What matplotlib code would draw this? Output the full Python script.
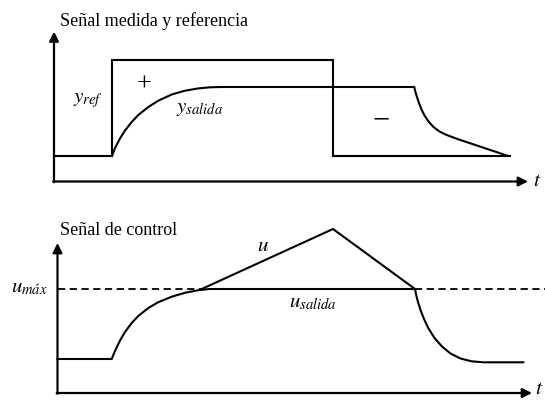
import matplotlib
matplotlib.use("Agg")
import matplotlib.pyplot as plt

plt.rcParams['font.family'] = ['Liberation Serif', 'DejaVu Serif']
plt.rcParams['mathtext.fontset'] = 'stix'

# --- top panel: reference and measured output (t, value) ---
ref_t = [0, 58, 58, 279, 279, 456]
ref_y = [25.5, 25.5, 122, 122, 25.5, 25.5]

out_t = [58, 61, 66, 71, 77.7, 84.3, 94.3, 104.3, 117.7, 131, 144.3, 156, 166,
         360.3, 361.3, 362.8, 364.8, 367.3, 370.5, 374.5, 379.5, 385.5, 392, 398, 404.3, 454.3]
out_y = [25.5, 33.5, 43, 51, 59.5, 66.5, 74.5, 80.8, 87, 90.8, 93.1, 94.2, 94.5,
         94.5, 90, 85, 79, 72.5, 66, 60, 54.5, 50, 46.8, 44.5, 42.2, 25.5]

# --- bottom panel: control signal ---
u_max = 104
usal_t = [0, 54.2, 57.5, 62.5, 67.5, 74.2, 80.8, 90.8, 100.8, 114.2, 127.5, 140.8, 152,
          357.5, 358.7, 360.5, 363, 366.5, 371, 377, 384.5, 393, 403, 414, 425.8, 465.8]
usal_y = [34, 34, 42, 52.5, 61, 70, 77, 85, 90.8, 96.3, 100.2, 102.8, 104,
          104, 98, 91, 83, 74, 64.5, 55, 46.5, 39.5, 34.5, 31.7, 30.7, 30.7]
u_t = [144.2, 275.5, 357.5]
u_y = [104, 164, 104]

W, H = 545, 400
fig = plt.figure(figsize=(W / 100, H / 100), dpi=100)


def make_axes(ox, oy, top):
    # axes in which 1 data unit = 1 pixel, origin at pixel (ox, oy)
    pad = 6
    left = ox - pad
    ax = fig.add_axes([left / W, (H - oy - pad) / H, (W - left) / W, (oy - top + pad) / H])
    ax.set_xlim(-pad, W - ox)
    ax.set_ylim(-pad, oy - top)
    ax.axis('off')
    return ax


def draw_axes(ax, xtip, ytip):
    arrow = dict(arrowstyle='-|>', lw=1.6, color='black', mutation_scale=14, shrinkA=0, shrinkB=0)
    ax.annotate('', xy=(xtip, 0), xytext=(-0.8, 0), arrowprops=arrow, annotation_clip=False)
    ax.annotate('', xy=(0, ytip), xytext=(0, -0.8), arrowprops=arrow, annotation_clip=False)


lw = 1.5
math_size = 15

# top panel
ax1 = make_axes(54, 181.5, 8)
draw_axes(ax1, 474, 150)
ax1.plot(ref_t, ref_y, color='black', lw=lw, solid_joinstyle='miter', clip_on=False)
ax1.plot(out_t, out_y, color='black', lw=lw, solid_joinstyle='round', clip_on=False)
ax1.text(6, 160.5, 'Señal medida y referencia', fontsize=13, ha='left', va='center')
ax1.text(34, 81.5, r'$y_{ref}$', fontsize=math_size, ha='center', va='center')
ax1.text(146, 73.5, r'$y_{salida}$', fontsize=math_size, ha='center', va='center')
ax1.text(90, 96.5, '+', fontsize=19, ha='center', va='center')
ax1.text(327, 60.5, '−', fontsize=22, ha='center', va='center')
ax1.text(483, 0.5, r'$t$', fontsize=math_size, ha='center', va='center')

# bottom panel
ax2 = make_axes(57.5, 393, 212)
draw_axes(ax2, 474.5, 150)
ax2.plot([0, u_t[0]], [u_max, u_max], color='black', lw=1.3, ls=(0, (4, 2.5)), clip_on=False)
ax2.plot([u_t[-1], W - 57.5], [u_max, u_max], color='black', lw=1.3, ls=(0, (4, 2.5)), clip_on=False)
ax2.plot(usal_t, usal_y, color='black', lw=lw, solid_joinstyle='round', clip_on=False)
ax2.plot(u_t, u_y, color='black', lw=lw, solid_joinstyle='miter', clip_on=False)
ax2.text(2.5, 163, 'Señal de control', fontsize=13, ha='left', va='center')
ax2.text(-28.5, 105, r'$u_{m\acute{a}x}$', fontsize=math_size, ha='center', va='center')
ax2.text(205.5, 147, r'$u$', fontsize=math_size, ha='center', va='center')
ax2.text(255.5, 90, r'$u_{salida}$', fontsize=math_size, ha='center', va='center')
ax2.text(481.5, 3, r'$t$', fontsize=math_size, ha='center', va='center')

fig.savefig('out.png', dpi=100, facecolor='white')
